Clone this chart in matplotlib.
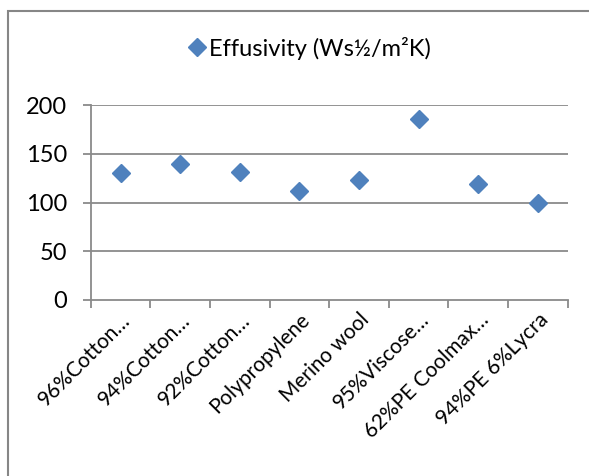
import matplotlib
matplotlib.use("Agg")
import matplotlib.pyplot as plt
from matplotlib.patches import Rectangle
from matplotlib.lines import Line2D

categories = ["96%Cotton…", "94%Cotton…", "92%Cotton…", "Polypropylene",
              "Merino wool", "95%Viscose…", "62%PE Coolmax…", "94%PE 6%Lycra"]
effusivity = [130, 139.5, 131, 111.5, 123, 186, 118.5, 99]
y_ticks = [0, 50, 100, 150, 200]
series_name = "Effusivity (Ws½/m²K)"

plt.rcParams["font.family"] = ["Lato", "DejaVu Sans"]

W, H = 589, 476
fig = plt.figure(figsize=(W / 100, H / 100), dpi=100)

# chart area border (runs off the right and bottom edges)
fig.add_artist(Rectangle((8 / W, -0.1), 1.2, 1 - 11 / H + 0.1,
                         transform=fig.transFigure, fill=False,
                         edgecolor="#868686", linewidth=1.5))

ax = fig.add_axes([90.7 / W, 1 - 300 / H, (567.7 - 90.7) / W, (300 - 105) / H])

grid_col = "#8a8a8a"
x = list(range(len(categories)))
ax.plot(x, effusivity, linestyle="none", marker="D", markersize=9.5,
        color="#4F81BD", markeredgecolor="#4F81BD", zorder=3, clip_on=False)

ax.set_xlim(-0.5, len(categories) - 0.5)
ax.set_ylim(0, 200)
ax.set_yticks(y_ticks)
ax.set_yticklabels([str(v) for v in y_ticks], fontsize=17, color="#000000")
for v in y_ticks[1:]:
    ax.axhline(v, color=grid_col, linewidth=1.3, zorder=1)

# category tick marks sit on boundaries; labels at centers
ax.set_xticks([i - 0.5 for i in range(len(categories) + 1)])
ax.set_xticklabels([])
ax.set_xticks(x, minor=True)
ax.set_xticklabels(categories, minor=True, rotation=45, ha="right",
                   rotation_mode="anchor", fontsize=15)
ax.tick_params(axis="x", which="minor", length=0, pad=7)
ax.tick_params(axis="x", which="major", length=6, width=1.3, color=grid_col,
               direction="out")
ax.tick_params(axis="y", length=6, width=1.3, color=grid_col, direction="out", pad=11)

for s in ["top", "right"]:
    ax.spines[s].set_visible(False)
for s in ["left", "bottom"]:
    ax.spines[s].set_color(grid_col)
    ax.spines[s].set_linewidth(1.3)

handle = Line2D([], [], linestyle="none", marker="D", markersize=9,
                color="#4F81BD")
fig.legend([handle], [series_name], loc="center", bbox_to_anchor=(308 / W, 1 - 48 / H),
           frameon=False, fontsize=17, handletextpad=0.0, handlelength=1.0)

fig.savefig("out.png", dpi=100)
